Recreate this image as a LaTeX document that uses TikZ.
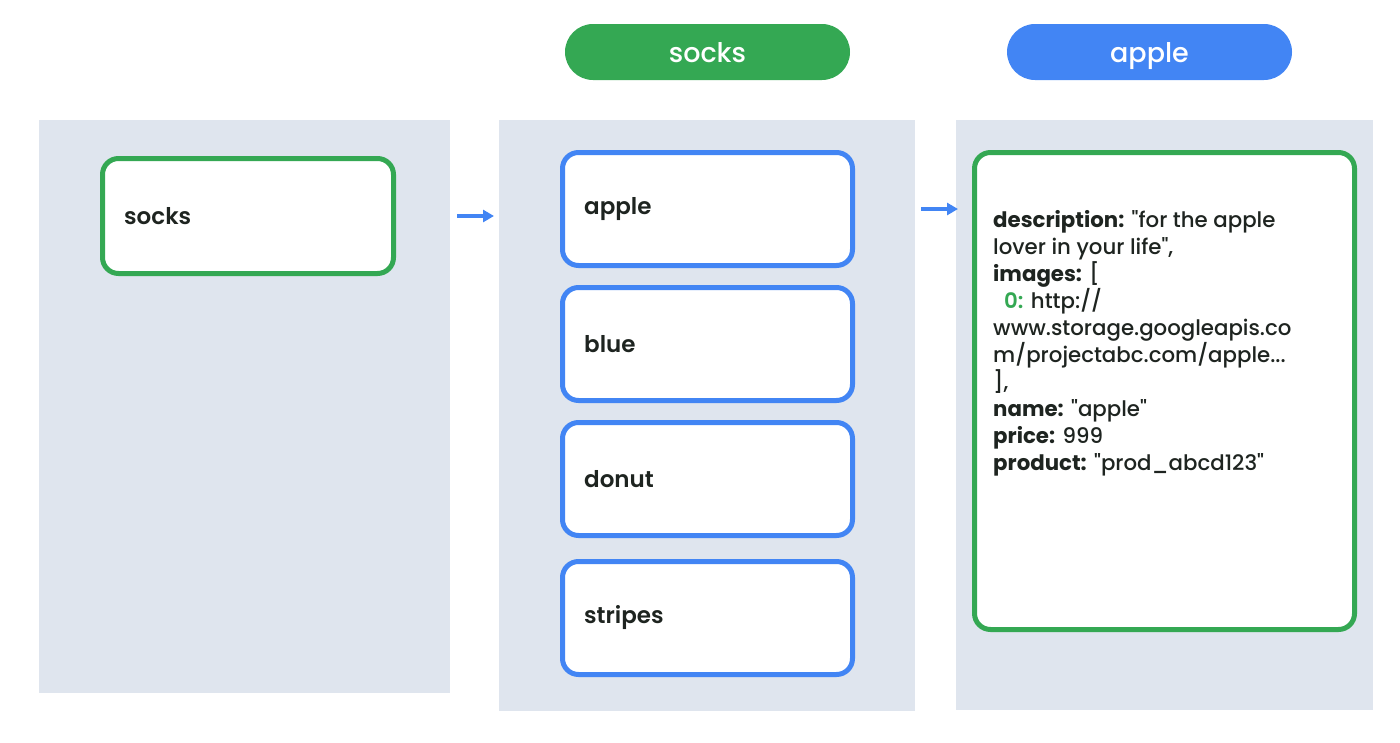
\documentclass[tikz,border=0pt]{standalone}
\usepackage{fontspec}
\setmainfont{Poppins Medium}[Ligatures=TeXOff, BoldFont={Poppins Bold}]
\newfontfamily\semifont{Poppins SemiBold}[Ligatures=TeXOff]
\usetikzlibrary{arrows.meta,shapes.misc}
\definecolor{gGreen}{HTML}{34A853}
\definecolor{gBlue}{HTML}{4285F4}
\definecolor{panelbg}{HTML}{DFE5EE}
\definecolor{ink}{HTML}{1E2420}
\begin{document}
\begin{tikzpicture}[x=1pt,y=-1pt,
  panel/.style={fill=panelbg, draw=none},
  card/.style={draw, line width=5pt, fill=white, rounded corners=16pt, inner sep=0pt, outer sep=0pt, anchor=north west},
  gcard/.style={card, draw=gGreen},
  bcard/.style={card, draw=gBlue, minimum width=290pt, minimum height=113pt},
  lbl/.style={anchor=west, text=ink, inner sep=0pt, font=\semifont\fontsize{23}{27}\selectfont},
  pill/.style={rounded rectangle, minimum width=285pt, minimum height=56pt, text=white, inner sep=0pt, text height=21pt, text depth=0pt, font=\fontsize{27}{32}\selectfont},
  arr/.style={gBlue, line width=3.2pt, -{Triangle[length=11pt,width=12pt]}}
]
\useasboundingbox (0,0) rectangle (1400,742);
% panels
\fill[panel] (39,120) rectangle (450,693);
\fill[panel] (499,120) rectangle (915,711);
\fill[panel] (956,120) rectangle (1373,710);
% pills
\node[pill, fill=gGreen] (p1) at (707.5,52) {socks};
\node[pill, fill=gBlue] (p2) at (1149.5,52) {apple};
% panel 1
\node[gcard, minimum width=291pt, minimum height=115pt] (s) at (102.5,158.5) {};
\node[lbl] (sl) at ([xshift=21.5pt]s.west) {socks};
% panel 2
\node[bcard] (b1) at (562.5,152.5) {};
\node[bcard] (b2) at (562.5,287.5) {};
\node[bcard] (b3) at (562.5,422.5) {};
\node[bcard] (b4) at (562.5,561.5) {};
\node[lbl] (l1) at ([xshift=21.5pt]b1.west) {apple};
\node[lbl] (l2) at ([xshift=21.5pt]b2.west) {blue};
\node[lbl] (l3) at ([xshift=21.5pt]b3.west) {donut};
\node[lbl] (l4) at ([xshift=21.5pt]b4.west) {stripes};
% panel 3
\node[gcard, minimum width=380pt, minimum height=477pt] (r) at (974.5,152.5) {};
\node[anchor=north west, align=left, text=ink, inner sep=0pt, font=\fontsize{21.3}{27}\selectfont] (json) at (993,210)
{\textbf{description:} "for the apple\\
lover in your life",\\
\textbf{images:} [\\
\hspace*{11pt}{\semifont\color{gGreen}0:} http://\\
www.storage.googleapis.co\\
m/projectabc.com/apple...\\
],\\
\textbf{name:} "apple"\\
\textbf{price:} 999\\
\textbf{product:} "prod\_abcd123"};
% arrows
\coordinate (a1s) at (457,216);
\coordinate (a1e) at (494,216);
\coordinate (a2s) at (921,209);
\coordinate (a2e) at (958,209);
\draw[arr] (a1s) -- (a1e);
\draw[arr] (a2s) -- (a2e);
\end{tikzpicture}
\end{document}
